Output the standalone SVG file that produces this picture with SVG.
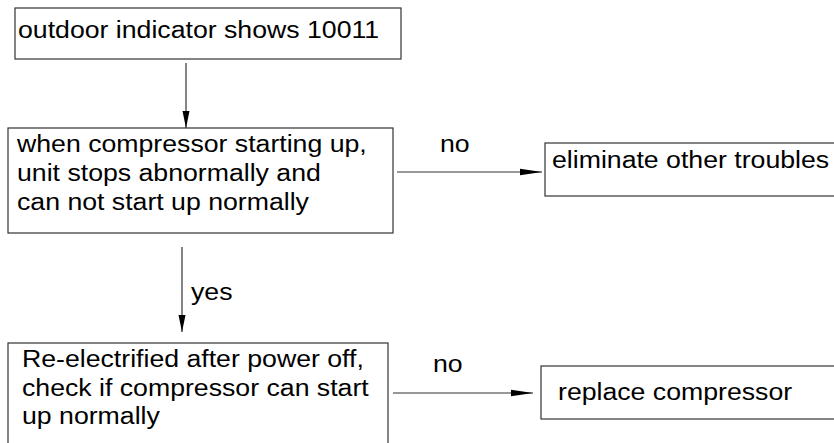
<svg xmlns="http://www.w3.org/2000/svg" width="834" height="443" viewBox="0 0 834 443">
<style>
.box{fill:#fff;stroke:#333;stroke-width:1.2}
.t{font-family:"Liberation Sans",Arial,sans-serif;font-size:23px;fill:#000}
.c{stroke:#333;stroke-width:1.2;fill:none}
</style>
<defs>
<marker id="ah" markerUnits="userSpaceOnUse" markerWidth="24" markerHeight="8" refX="22" refY="4" orient="auto">
<path d="M0,0.7 L22,4 L0,7.3 z" fill="#000"/>
</marker>
<marker id="av" markerUnits="userSpaceOnUse" markerWidth="18" markerHeight="8" refX="17" refY="4" orient="auto">
<path d="M0,0.5 L17,4 L0,7.5 z" fill="#000"/>
</marker>
</defs>
<g id="connectors">
<line class="c" x1="186" y1="63" x2="186" y2="128" marker-end="url(#av)"/>
<line class="c" x1="397" y1="172" x2="542" y2="172" marker-end="url(#ah)"/>
<text class="t" transform="translate(440,152) scale(1.16,1)">no</text>
<line class="c" x1="182" y1="247" x2="182" y2="332" marker-end="url(#av)"/>
<text class="t" transform="translate(191,300) scale(1.16,1)">yes</text>
<line class="c" x1="393" y1="393" x2="533" y2="393" marker-end="url(#ah)"/>
<text class="t" transform="translate(433,372) scale(1.16,1)">no</text>
</g>
<g id="n1">
<rect class="box" x="15" y="8" width="386" height="51"/>
<text class="t" transform="translate(18,38) scale(1.16,1)">outdoor indicator shows 10011</text>
</g>
<g id="n2">
<rect class="box" x="8" y="128" width="385" height="105"/>
<text class="t" transform="translate(17,152) scale(1.16,1)">when compressor starting up,</text>
<text class="t" transform="translate(17,181) scale(1.16,1)">unit stops abnormally and</text>
<text class="t" transform="translate(17,210) scale(1.16,1)">can not start up normally</text>
</g>
<g id="n3">
<rect class="box" x="545" y="143" width="300" height="53"/>
<text class="t" transform="translate(552,168) scale(1.16,1)">eliminate other troubles</text>
</g>
<g id="n4">
<rect class="box" x="8" y="343" width="380" height="110"/>
<text class="t" transform="translate(22,367) scale(1.16,1)">Re-electrified after power off,</text>
<text class="t" transform="translate(22,396) scale(1.16,1)">check if compressor can start</text>
<text class="t" transform="translate(22,424) scale(1.16,1)">up normally</text>
</g>
<g id="n5">
<rect class="box" x="541" y="366" width="300" height="53"/>
<text class="t" transform="translate(558,400) scale(1.16,1)">replace compressor</text>
</g>
</svg>
